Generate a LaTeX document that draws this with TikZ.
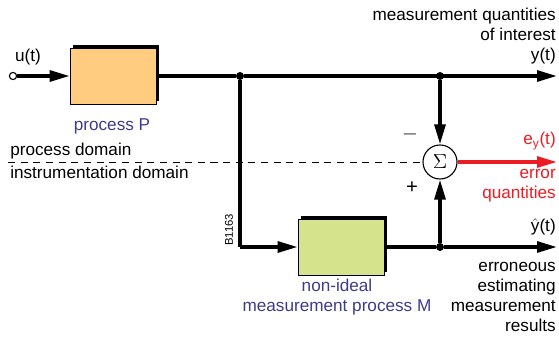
\documentclass[tikz,border=0pt]{standalone}
\usepackage{fontspec}
\setmainfont{Liberation Sans}
\usetikzlibrary{calc,shapes,shadows,arrows.meta}
\definecolor{procblue}{RGB}{60,60,140}
\definecolor{errred}{RGB}{237,28,36}
\definecolor{boxorange}{RGB}{255,204,128}
\definecolor{boxgreen}{RGB}{212,227,140}
\tikzset{
  sig/.style={line width=2.5pt,-{Triangle[length=0.5cm,width=0.27cm]}},
  wire/.style={line width=2.5pt},
  block/.style={draw,thin,rectangle,minimum width=2.15cm,minimum height=1.4cm,
    general shadow={fill=black,shadow xshift=2.4pt,shadow yshift=2.4pt}},
  dot/.style={circle,fill=black,inner sep=0pt,minimum size=0.2cm},
  txt/.style={font=\fontsize{12.2}{14.2}\selectfont,inner sep=0pt}
}
\begin{document}
\begin{tikzpicture}[x=0.025cm,y=-0.025cm]
  \useasboundingbox (0,0) rectangle (559,340);

  %blocks
  \node[block,fill=boxorange] (P) at (113,76) {};
  \node[block,fill=boxgreen] (M) at (341,247) {};
  \node[draw,circle,thick,fill=white,minimum size=0.85cm,inner sep=0pt] (S) at (440,162) {\Large$\Sigma$};

  %points
  \node[draw,circle,thick,fill=white,inner sep=0pt,minimum size=0.18cm] (u) at (13,76) {};
  \node[dot] (j1) at (240,76) {};
  \node[dot] (j2) at (440,76) {};
  \node[dot] (j3) at (440,247) {};
  \coordinate (c) at (240,247);
  \coordinate (y) at (557,76);
  \coordinate (yh) at (557,247);
  \coordinate (e) at (557,162);
  \coordinate (d) at (8,162);

  %connectors
  \draw[thin,dash pattern=on 5pt off 4pt] (d) -- (S);
  \draw[sig] (u) -- (P);
  \draw[wire] (P) -- (j1);
  \draw[sig] (j1) -- (y);
  \draw[wire] (j1) -- (c);
  \draw[sig] (c) -- (M);
  \draw[wire] (M) -- (j3);
  \draw[sig] (j3) -- (yh);
  \draw[sig] (j2) -- (S);
  \draw[sig] (j3) -- (S);
  \draw[sig,errred] (S) -- (e);

  %labels
  \node[txt] (lu) at (28,57) {u(t)};
  \node[txt,text=procblue] (lP) at (112,126) {process P};
  \node[txt,text=procblue,align=center] (lM) at (337,297) {non-ideal\\measurement process M};
  \node[txt,anchor=east,align=right] (lq) at (556,24) {measurement quantities\\of interest};
  \node[txt,anchor=east] (ly) at (556,56) {y(t)};
  \node[txt,anchor=east,text=errred] (le) at (556,141) {e$_\mathrm{y}$(t)};
  \node[txt,anchor=north east,align=right,text=errred] (lerr) at (556,169) {error\\quantities};
  \node[txt,anchor=east] (lyh) at (556,227) {$\hat{\mathrm{y}}$(t)};
  \node[txt,anchor=north east,align=right] (lres) at (556,262) {erroneous\\estimating\\measurement\\results};
  \node[txt,anchor=west] (lpd) at (10,151) {process domain};
  \node[txt,anchor=west] (lid) at (10,172) {instrumentation domain};
  \node[txt,font=\Large] (lm) at (410,134) {$-$};
  \node[txt,font=\Large] (lp) at (412,188) {+};
  \node[rotate=90,font=\fontsize{8}{9}\selectfont,inner sep=0pt] (code) at (229,230) {B1163};

\end{tikzpicture}
\end{document}
